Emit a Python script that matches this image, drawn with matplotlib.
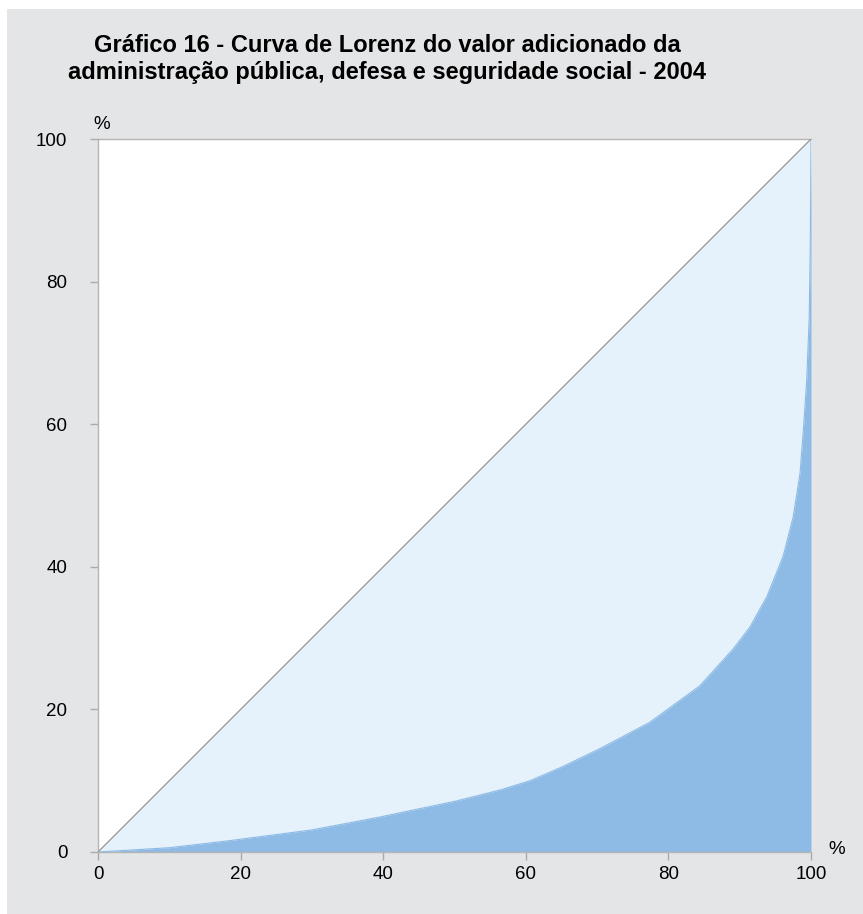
import matplotlib.pyplot as plt

# Lorenz curve (cumulative % of units vs cumulative % of value)
pop_pct = [0, 10, 18.5, 30, 39.5, 50, 56.4, 60.6, 65, 70.4, 77.4, 84.4, 89.1, 91.4,
           93.8, 96.1, 97.5, 98.46, 98.93, 99.4, 99.75, 99.9, 100]
value_pct = [0, 0.6, 1.6, 3.1, 4.9, 7.1, 8.7, 10.0, 11.9, 14.5, 18.2, 23.3, 28.5, 31.5,
             35.8, 41.5, 47.0, 53.1, 59.2, 66.2, 75.0, 85.0, 100]
equality = [0, 100]
ticks = [0, 20, 40, 60, 80, 100]

title = ('Gráfico 16 - Curva de Lorenz do valor adicionado da\n'
         'administração pública, defesa e seguridade social - 2004')

plt.rcParams['font.family'] = ['Liberation Sans', 'DejaVu Sans']

bg = '#e4e5e7'
fig = plt.figure(figsize=(8.63, 9.14), dpi=100, facecolor='white')
# gray panel, with a thin white margin at top/left like the reference
fig.patches.append(plt.Rectangle((7 / 863, 0), 1, 1 - 9 / 914, transform=fig.transFigure,
                                 facecolor=bg, edgecolor='none', zorder=-10))

ax = fig.add_axes([98 / 863, 1 - 852 / 914, 713 / 863, 713 / 914])
ax.set_facecolor('white')

# area under the curve, then the gap between curve and equality line
ax.fill_between(pop_pct, value_pct, 0, color='#8dbbe5', linewidth=0, zorder=2)
ax.fill_between(pop_pct, pop_pct, value_pct, color='#e5f1fb', linewidth=0, zorder=1)
ax.plot(pop_pct, value_pct, color='#8dbbe5', linewidth=0.8, zorder=3)
ax.plot(equality, equality, color='#9d9d9d', linewidth=1.0, zorder=4)

ax.set_xlim(0, 100)
ax.set_ylim(0, 100)
ax.set_xticks(ticks)
ax.set_yticks(ticks)
ax.tick_params(axis='both', length=6, width=1, color='#ababab', labelsize=13.5, pad=4)
ax.tick_params(axis='y', pad=16)

for side in ['left', 'bottom', 'top']:
    ax.spines[side].set_color('#b5b5b5')
    ax.spines[side].set_linewidth(1)
ax.spines['right'].set_visible(False)

ax.text(0.5, 102.1, '%', fontsize=13.5, ha='center', va='center', clip_on=False)
ax.text(103.6, 0.4, '%', fontsize=13.5, ha='center', va='center', clip_on=False)

fig.text(387 / 863, 1 - 59 / 914, title, ha='center', va='center',
         fontsize=17, fontweight='bold', linespacing=1.25)

fig.savefig('out.png', dpi=100, facecolor=fig.get_facecolor())
